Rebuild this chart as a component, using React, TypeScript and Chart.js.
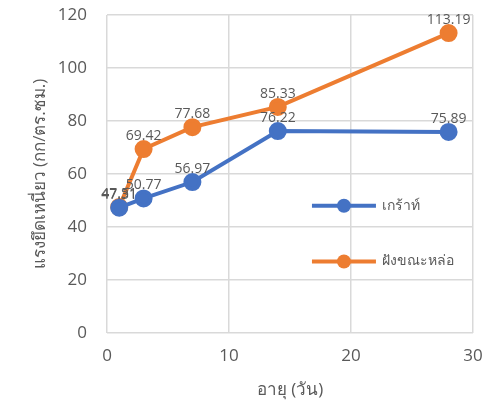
import React, { useEffect, useRef } from "react";
import { Chart, registerables } from "chart.js";

Chart.register(...registerables);

const ages = [1, 3, 7, 14, 28];
const groutValues = [47.31, 50.77, 56.97, 76.22, 75.89];
const castValues = [47.51, 69.42, 77.68, 85.33, 113.19];
const seriesNames = ["เกร้าท์", "ฝังขณะหล่อ"];
const xTitle = "อายุ (วัน)";
const yTitle = "แรงยึดเหนี่ยว (กก/ตร.ซม.)";

const FONT = "'Open Sans', 'DejaVu Sans', sans-serif";
const BLUE = "#4472C4";
const ORANGE = "#ED7D31";
const GREY = "#595959";

const labelPlugin = {
  id: "valueLabels",
  afterDatasetsDraw(chart: any) {
    const ctx = chart.ctx;
    ctx.save();
    ctx.font = `14px ${FONT}`;
    ctx.fillStyle = GREY;
    ctx.textAlign = "center";
    ctx.textBaseline = "bottom";
    chart.data.datasets.forEach((ds: any, i: number) => {
      const meta = chart.getDatasetMeta(i);
      meta.data.forEach((pt: any, j: number) => {
        const v = ds.data[j].y;
        ctx.fillText(v.toFixed(2), pt.x, pt.y - 6);
      });
    });
    ctx.restore();
  },
};

const legendPlugin = {
  id: "innerLegend",
  afterDraw(chart: any) {
    const ctx = chart.ctx;
    const { left, right, top, bottom } = chart.chartArea;
    const w = right - left;
    const h = bottom - top;
    ctx.save();
    chart.data.datasets.forEach((ds: any, i: number) => {
      const y = top + h * (i === 0 ? 0.6 : 0.775);
      const x0 = left + w * 0.56;
      const x1 = x0 + 64;
      ctx.strokeStyle = ds.borderColor;
      ctx.lineWidth = 4;
      ctx.beginPath();
      ctx.moveTo(x0, y);
      ctx.lineTo(x1, y);
      ctx.stroke();
      ctx.fillStyle = ds.backgroundColor;
      ctx.beginPath();
      ctx.arc((x0 + x1) / 2, y, 7, 0, Math.PI * 2);
      ctx.fill();
      ctx.fillStyle = GREY;
      ctx.font = `14px ${FONT}`;
      ctx.textAlign = "left";
      ctx.textBaseline = "middle";
      ctx.fillText(ds.label, x1 + 6, y);
    });
    ctx.restore();
  },
};

function zeroPad(scale: any) {
  scale.paddingLeft = 0;
  scale.paddingRight = 0;
  scale.paddingTop = 0;
  scale.paddingBottom = 0;
}

export default function App() {
  const ref = useRef<HTMLCanvasElement>(null);
  useEffect(() => {
    if (!ref.current) return;
    const chart = new Chart(ref.current, {
      type: "scatter",
      data: {
        datasets: [
          {
            label: seriesNames[0],
            data: ages.map((a, i) => ({ x: a, y: groutValues[i] })),
            borderColor: BLUE,
            backgroundColor: BLUE,
            showLine: true,
            borderWidth: 4,
            pointRadius: 7,
            pointHoverRadius: 7,
          },
          {
            label: seriesNames[1],
            data: ages.map((a, i) => ({ x: a, y: castValues[i] })),
            borderColor: ORANGE,
            backgroundColor: ORANGE,
            showLine: true,
            borderWidth: 4,
            pointRadius: 7,
            pointHoverRadius: 7,
          },
        ],
      },
      options: {
        animation: false,
        responsive: false,
        layout: { padding: { top: 15, right: 10, left: 0, bottom: 0 } },
        plugins: {
          legend: { display: false },
          tooltip: { enabled: false },
        },
        scales: {
          x: {
            type: "linear",
            min: 0,
            max: 30,
            ticks: { stepSize: 10, color: GREY, font: { size: 17, family: FONT }, padding: 13, maxRotation: 0 },
            grid: { color: "#D9D9D9", lineWidth: 1.5, drawTicks: false },
            border: { display: false },
            title: { display: true, text: xTitle, color: GREY, font: { size: 17, family: FONT }, padding: 0 },
            afterFit(scale: any) {
              scale.height = 67;
              zeroPad(scale);
            },
          },
          y: {
            min: 0,
            max: 120,
            ticks: { stepSize: 20, color: GREY, font: { size: 17, family: FONT }, padding: 20 },
            grid: { color: "#D9D9D9", lineWidth: 1.5, drawTicks: false },
            border: { display: false },
            title: { display: true, text: yTitle, color: GREY, font: { size: 17, family: FONT }, padding: { top: 30, bottom: 0 } },
            afterFit(scale: any) {
              scale.width = 107;
              zeroPad(scale);
            },
          },
        },
      },
      plugins: [labelPlugin, legendPlugin],
    });
    return () => chart.destroy();
  }, []);
  return (
    <div style={{ position: "absolute", left: 0, top: 0, width: 484, height: 400, background: "#fff" }}>
      <canvas ref={ref} width={484} height={400} />
    </div>
  );
}
